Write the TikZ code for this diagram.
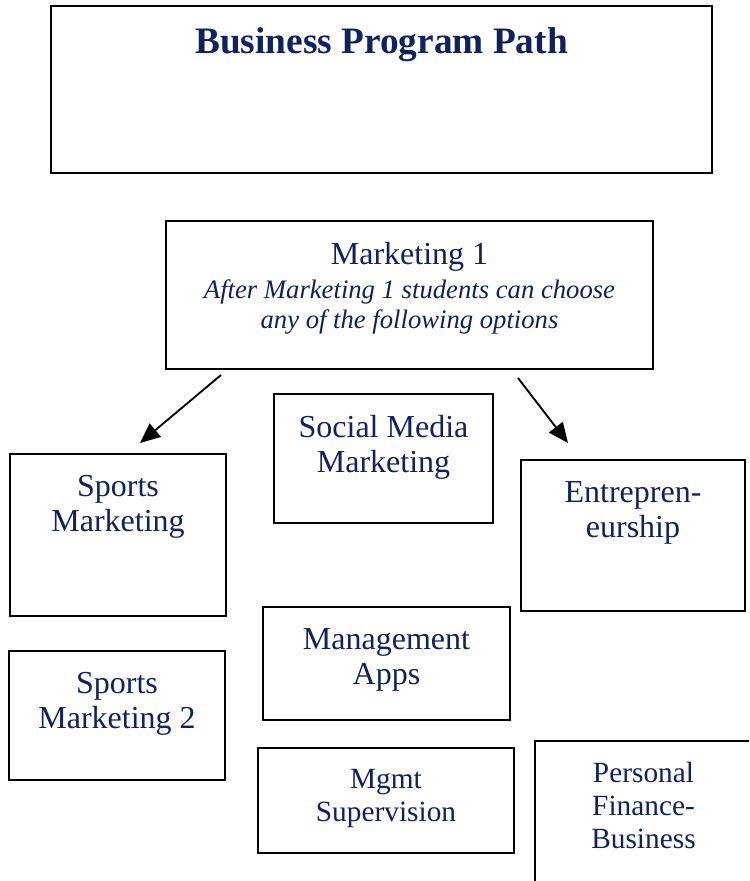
\documentclass[tikz,border=0pt]{standalone}
\usepackage{fontspec}
\setmainfont{Liberation Serif}
\usetikzlibrary{arrows.meta}
\definecolor{navy}{RGB}{14,34,96}

\begin{document}
\begin{tikzpicture}[x=0.375pt, y=-0.375pt,
		box/.style = {draw, line width=0.7pt, inner sep=0pt},
		boxtext/.style = {anchor=north, inner sep=0pt, yshift=-8.2pt,
			align=center, text=navy, font=\fontsize{12}{13.2}\selectfont},
		smalltext/.style = {boxtext, font=\fontsize{11}{12.4}\selectfont},
		notetext/.style = {boxtext, font=\fontsize{10}{11.6}\selectfont\itshape},
		arr/.style = {line width=0.7pt, -{Triangle[length=7.5pt,width=6.5pt]}}]
	\useasboundingbox (0,0) rectangle (749,881);
	\clip (0,0) rectangle (749,881);
	% title
	\node (title) [box, minimum width=247.9pt, minimum height=62.6pt,
	label={[boxtext, font=\bfseries\fontsize{14}{16}\selectfont]north:Business Program Path}]
	at (381.5,89.5) {};
	% first course
	\node (mkt1) [box, minimum width=182.6pt, minimum height=55.5pt,
	label={[boxtext]north:Marketing 1}] at (409.5,295) {};
	\node (mkt1note) [notetext, yshift=-13.8pt] at (mkt1.north)
	{After Marketing 1 students can choose\\any of the following options};
	% options
	\node (social) [box, minimum width=82.1pt, minimum height=48.4pt,
	label={[boxtext]north:{Social Media\\Marketing}}] at (383.5,458.5) {};
	\node (sports) [box, minimum width=81pt, minimum height=60.75pt,
	label={[boxtext]north:{Sports\\Marketing}}] at (118,535) {};
	\node (entre) [box, minimum width=84pt, minimum height=56.6pt,
	label={[boxtext]north:{Entrepren-\\eurship}}] at (633,535.5) {};
	\node (mgmtapps) [box, minimum width=92.6pt, minimum height=42.4pt,
	label={[boxtext]north:{Management\\Apps}}] at (386.5,663.5) {};
	\node (sports2) [box, minimum width=81pt, minimum height=48.4pt,
	label={[boxtext]north:{Sports\\Marketing 2}}] at (117,715.5) {};
	\node (mgmtsup) [box, minimum width=96pt, minimum height=39.4pt,
	label={[smalltext]north:{Mgmt\\Supervision}}] at (386,800.5) {};
	\node (perfin) [box, minimum width=81.4pt, minimum height=59.6pt,
	label={[smalltext]north:{Personal\\Finance-\\Business}}] at (643.5,820.5) {};
	% arrows
	\coordinate (mkt1l) at (221,375);
	\coordinate (mkt1r) at (518,378);
	\coordinate (sportsin) at (140,443);
	\coordinate (entrein) at (568,443);
	\draw [arr] (mkt1l) -- (sportsin);
	\draw [arr] (mkt1r) -- (entrein);
\end{tikzpicture}
\end{document}
